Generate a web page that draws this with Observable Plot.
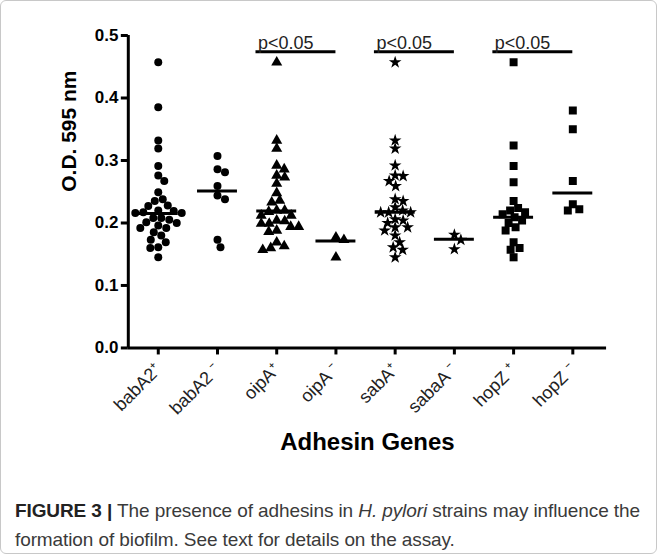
<!DOCTYPE html>
<html><head><meta charset="utf-8">
<script src="https://cdn.jsdelivr.net/npm/d3@7"></script>
<script src="https://cdn.jsdelivr.net/npm/@observablehq/plot@0.6"></script>
<style>
body{margin:0;background:#fff;}
#fig{position:relative;width:657px;height:554px;box-sizing:border-box;border:1px solid #c8c8c8;border-radius:6px;overflow:hidden;font-family:"Liberation Sans",Arial,sans-serif;}
#chart{position:absolute;left:-1px;top:-1px;}
#caption{position:absolute;left:14px;top:495px;font-size:19px;line-height:29px;color:#3a3a3a;white-space:nowrap;letter-spacing:-0.1px;}
#caption b{color:#222;}
</style></head><body>
<div id="fig"><div id="chart"></div><div id="caption"><b>FIGURE 3 |</b> The presence of adhesins in <i>H. pylori</i> strains may influence the<br>formation of biofilm. See text for details on the assay.</div></div>
<script>
const categories = ["babA2+", "babA2 -", "oipA+", "oipA -", "sabA+", "sabaA -", "hopZ +", "hopZ -"];
const tickLabels = ["babA2⁺", "babA2 ⁻", "oipA⁺", "oipA ⁻", "sabA⁺", "sabaA ⁻", "hopZ ⁺", "hopZ ⁻"];
const yTicks = [0, 0.1, 0.2, 0.3, 0.4, 0.5];

const babA2Pos = [0.457, 0.385, 0.332, 0.319, 0.291, 0.276, 0.267, 0.249, 0.238, 0.235, 0.228, 0.227, 0.220, 0.219, 0.217, 0.216, 0.216, 0.208, 0.208, 0.205, 0.201, 0.200, 0.196, 0.192, 0.192, 0.185, 0.180, 0.173, 0.169, 0.161, 0.160, 0.145];
const babA2Neg = [0.307, 0.286, 0.281, 0.259, 0.244, 0.238, 0.173, 0.161];
const oipAPos = [0.457, 0.332, 0.319, 0.292, 0.286, 0.276, 0.273, 0.263, 0.248, 0.236, 0.233, 0.220, 0.220, 0.218, 0.212, 0.212, 0.204, 0.203, 0.199, 0.199, 0.194, 0.194, 0.188, 0.186, 0.169, 0.163, 0.160, 0.157];
const oipANeg = [0.177, 0.173, 0.145];
const sabAPos = [0.457, 0.332, 0.319, 0.292, 0.276, 0.275, 0.267, 0.259, 0.238, 0.235, 0.225, 0.220, 0.217, 0.217, 0.217, 0.206, 0.204, 0.200, 0.193, 0.193, 0.188, 0.180, 0.169, 0.161, 0.157, 0.145];
const sabaANeg = [0.181, 0.173, 0.158];
const hopZPos = [0.457, 0.324, 0.291, 0.265, 0.235, 0.224, 0.220, 0.217, 0.214, 0.209, 0.204, 0.200, 0.193, 0.188, 0.169, 0.160, 0.157, 0.145];
const hopZNeg = [0.380, 0.350, 0.267, 0.230, 0.222, 0.220];
const medians = [0.215, 0.251, 0.219, 0.171, 0.217, 0.174, 0.209, 0.248];
const sigBars = [
  {from: "oipA+", to: "oipA -", label: "p<0.05"},
  {from: "sabA+", to: "sabaA -", label: "p<0.05"},
  {from: "hopZ +", to: "hopZ -", label: "p<0.05"}
];
const sigLevel = 0.474;

const groups = [babA2Pos, babA2Neg, oipAPos, oipANeg, sabAPos, sabaANeg, hopZPos, hopZNeg];
const symbols = ["circle", "circle", "triangle", "triangle", "star", "star", "square", "square"];
const radii = [4, 4, 4.1, 4.1, 4, 4, 4.5, 4.5];

// layout
const W = 657, H = 470, mL = 128, mR = 50, mT = 35, mB = 122;
const xDomain = [-0.506, 7.57];
const yDomain = [0, 0.5];
const pxPerUnit = (W - mL - mR) / (xDomain[1] - xDomain[0]);
const yPx = v => (H - mB) - (v - yDomain[0]) / (yDomain[1] - yDomain[0]) * (H - mB - mT);

// deterministic beeswarm offsets (pixels) from the values
function swarm(values, minDist) {
  const placed = [];
  const out = new Array(values.length);
  const order = values.map((v, i) => i).sort((a, b) => values[b] - values[a]);
  for (const i of order) {
    const y = yPx(values[i]);
    let best = 0;
    for (let k = 0; k < 400; k++) {
      const cand = (k % 2 ? 1 : -1) * Math.ceil(k / 2) * 0.5;
      if (placed.every(p => Math.hypot(p.x - cand, p.y - y) >= minDist)) { best = cand; break; }
    }
    placed.push({x: best, y});
    out[i] = best;
  }
  return out;
}

const idx = c => categories.indexOf(c);
const dotMarks = groups.map((vals, gi) => {
  const offs = swarm(vals, 8);
  const rows = vals.map((v, i) => ({x: gi + offs[i] / pxPerUnit, y: v}));
  return Plot.dot(rows, {x: "x", y: "y", symbol: symbols[gi], r: radii[gi], fill: "black", stroke: "none"});
});

const medRows = categories.map((c, i) => ({i, m: medians[i]}));
const halfLine = 20 / pxPerUnit;

const chart = Plot.plot({
  width: W, height: H,
  marginLeft: mL, marginRight: mR, marginTop: mT, marginBottom: mB,
  style: {fontFamily: "'Liberation Sans', Arial, sans-serif", background: "transparent", color: "black"},
  x: {domain: xDomain},
  y: {domain: yDomain},
  marks: [
    Plot.axisY({ticks: yTicks, tickFormat: d3.format(".1f"), tickSize: 7, tickPadding: 3, strokeWidth: 3, fontSize: 17, fontWeight: "bold", label: null}),
    Plot.axisX({ticks: d3.range(categories.length), tickFormat: i => tickLabels[i], tickRotate: -45, tickSize: 7, tickPadding: 12, strokeWidth: 3, fontSize: 18, fill: "#222", label: null}),
    Plot.ruleX([xDomain[0]], {y1: yDomain[0], y2: yDomain[1], strokeWidth: 3}),
    Plot.ruleY([0], {x1: xDomain[0], x2: xDomain[1], strokeWidth: 3}),
    ...dotMarks,
    Plot.ruleY(medRows, {y: "m", x1: d => d.i - halfLine, x2: d => d.i + halfLine, strokeWidth: 3}),
    Plot.ruleY(sigBars, {y: sigLevel, x1: d => idx(d.from) - 0.35, x2: d => idx(d.to), strokeWidth: 3}),
    Plot.text(sigBars, {x: d => idx(d.from) - 0.35, y: sigLevel, text: "label", textAnchor: "start", lineAnchor: "bottom", dx: 2, dy: -3, fontSize: 18, fill: "#222"}),
    Plot.text(["O.D. 595 nm"], {frameAnchor: "left", dx: -59, rotate: -90, fontSize: 21, fontWeight: "bold"}),
    Plot.text(["Adhesin Genes"], {frameAnchor: "bottom", dy: 102, fontSize: 24, fontWeight: "bold"})
  ]
});
document.getElementById("chart").appendChild(chart);
</script>
</body></html>
